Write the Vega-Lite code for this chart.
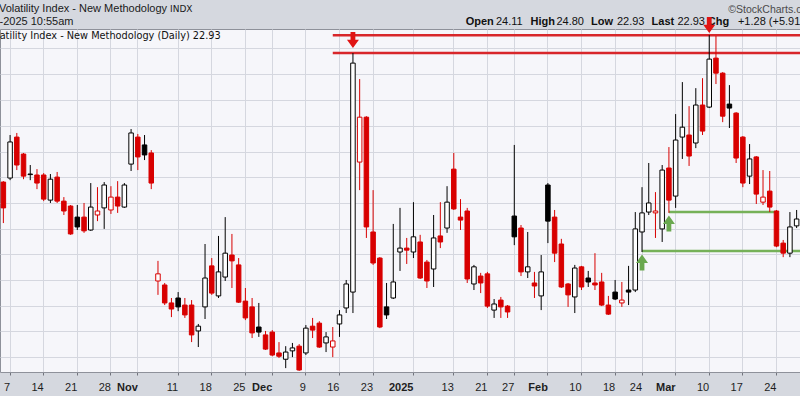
{
  "$schema": "https://vega.github.io/schema/vega-lite/v6.json",
  "autosize": "none",
  "width": 800,
  "height": 343,
  "padding": {"left": 0, "top": 29, "right": 0, "bottom": 24},
  "background": "#d5d8df",
  "config": {
    "view": {"fill": "#f6f6fa", "stroke": "#8e919a", "strokeWidth": 1},
    "text": {"font": "Liberation Sans"}
  },
  "datasets": {
    "vix": [
      {"d":"2024-10-04","o":20.53,"h":20.58,"l":18.52,"c":19.24},
      {"d":"2024-10-07","o":20.74,"h":23.11,"l":20.63,"c":22.71},
      {"d":"2024-10-08","o":22.99,"h":23.23,"l":21.16,"c":21.43},
      {"d":"2024-10-09","o":22.03,"h":22.09,"l":20.68,"c":20.84},
      {"d":"2024-10-10","o":20.92,"h":21.43,"l":20.63,"c":20.95},
      {"d":"2024-10-11","o":20.90,"h":21.21,"l":20.17,"c":20.48},
      {"d":"2024-10-14","o":20.90,"h":21.00,"l":19.57,"c":19.67},
      {"d":"2024-10-15","o":19.62,"h":20.95,"l":19.48,"c":20.68},
      {"d":"2024-10-16","o":20.79,"h":21.06,"l":19.48,"c":19.57},
      {"d":"2024-10-17","o":19.57,"h":19.77,"l":18.90,"c":19.09},
      {"d":"2024-10-18","o":19.33,"h":19.38,"l":17.98,"c":18.02},
      {"d":"2024-10-21","o":18.80,"h":19.38,"l":18.20,"c":18.34},
      {"d":"2024-10-22","o":18.80,"h":19.48,"l":18.07,"c":18.16},
      {"d":"2024-10-23","o":18.20,"h":20.48,"l":18.16,"c":19.28},
      {"d":"2024-10-24","o":18.90,"h":20.27,"l":18.61,"c":19.09},
      {"d":"2024-10-25","o":19.24,"h":20.53,"l":18.25,"c":20.38},
      {"d":"2024-10-28","o":19.14,"h":20.32,"l":18.95,"c":19.77},
      {"d":"2024-10-29","o":19.77,"h":20.58,"l":19.00,"c":19.33},
      {"d":"2024-10-30","o":19.28,"h":20.48,"l":19.24,"c":20.38},
      {"d":"2024-10-31","o":21.48,"h":23.46,"l":21.11,"c":23.23},
      {"d":"2024-11-01","o":22.99,"h":23.17,"l":21.16,"c":21.87},
      {"d":"2024-11-04","o":22.54,"h":23.11,"l":21.70,"c":21.98},
      {"d":"2024-11-05","o":22.09,"h":22.25,"l":20.17,"c":20.48},
      {"d":"2024-11-06","o":16.01,"h":16.84,"l":15.46,"c":16.30},
      {"d":"2024-11-07","o":15.85,"h":15.93,"l":15.07,"c":15.15},
      {"d":"2024-11-08","o":15.15,"h":15.34,"l":14.62,"c":14.92},
      {"d":"2024-11-11","o":15.34,"h":15.57,"l":14.84,"c":15.00},
      {"d":"2024-11-12","o":15.07,"h":15.34,"l":14.59,"c":14.70},
      {"d":"2024-11-13","o":15.07,"h":15.26,"l":13.73,"c":13.98},
      {"d":"2024-11-14","o":14.12,"h":14.37,"l":13.56,"c":14.29},
      {"d":"2024-11-15","o":15.00,"h":17.57,"l":14.55,"c":16.13},
      {"d":"2024-11-18","o":16.63,"h":16.96,"l":15.46,"c":15.53},
      {"d":"2024-11-19","o":15.42,"h":17.93,"l":15.34,"c":16.38},
      {"d":"2024-11-20","o":16.17,"h":18.80,"l":16.01,"c":17.17},
      {"d":"2024-11-21","o":17.09,"h":18.02,"l":15.73,"c":16.84},
      {"d":"2024-11-22","o":16.67,"h":16.96,"l":15.15,"c":15.18},
      {"d":"2024-11-25","o":15.22,"h":15.73,"l":14.51,"c":14.59},
      {"d":"2024-11-26","o":15.00,"h":15.34,"l":13.87,"c":14.05},
      {"d":"2024-11-27","o":14.26,"h":15.15,"l":13.91,"c":14.08},
      {"d":"2024-11-29","o":13.98,"h":14.12,"l":13.46,"c":13.49},
      {"d":"2024-12-02","o":14.08,"h":14.15,"l":13.25,"c":13.29},
      {"d":"2024-12-03","o":13.36,"h":13.73,"l":13.19,"c":13.25},
      {"d":"2024-12-04","o":13.15,"h":13.59,"l":12.86,"c":13.39},
      {"d":"2024-12-05","o":13.43,"h":13.70,"l":13.22,"c":13.53},
      {"d":"2024-12-06","o":13.59,"h":13.66,"l":12.77,"c":12.80},
      {"d":"2024-12-09","o":13.36,"h":14.33,"l":13.29,"c":14.22},
      {"d":"2024-12-10","o":14.29,"h":14.59,"l":13.87,"c":14.15},
      {"d":"2024-12-11","o":14.40,"h":14.47,"l":13.53,"c":13.56},
      {"d":"2024-12-12","o":13.70,"h":14.08,"l":13.39,"c":13.91},
      {"d":"2024-12-13","o":13.56,"h":14.26,"l":13.22,"c":13.77},
      {"d":"2024-12-16","o":14.37,"h":14.88,"l":13.91,"c":14.70},
      {"d":"2024-12-17","o":14.96,"h":16.05,"l":14.77,"c":15.89},
      {"d":"2024-12-18","o":15.57,"h":28.40,"l":14.77,"c":27.69},
      {"d":"2024-12-19","o":21.59,"h":26.60,"l":20.12,"c":24.17},
      {"d":"2024-12-20","o":24.17,"h":24.23,"l":17.84,"c":18.34},
      {"d":"2024-12-23","o":18.11,"h":20.12,"l":16.67,"c":16.75},
      {"d":"2024-12-24","o":16.96,"h":17.00,"l":14.22,"c":14.26},
      {"d":"2024-12-26","o":15.00,"h":15.93,"l":14.55,"c":14.70},
      {"d":"2024-12-27","o":15.34,"h":18.48,"l":15.30,"c":15.97},
      {"d":"2024-12-30","o":17.22,"h":19.24,"l":16.42,"c":17.39},
      {"d":"2024-12-31","o":17.39,"h":17.84,"l":16.71,"c":17.30},
      {"d":"2025-01-02","o":17.22,"h":19.52,"l":16.96,"c":17.89},
      {"d":"2025-01-03","o":17.66,"h":17.98,"l":16.09,"c":16.13},
      {"d":"2025-01-06","o":16.79,"h":16.88,"l":15.73,"c":16.01},
      {"d":"2025-01-07","o":16.50,"h":18.90,"l":15.77,"c":17.84},
      {"d":"2025-01-08","o":17.93,"h":19.52,"l":17.39,"c":17.66},
      {"d":"2025-01-10","o":18.29,"h":20.32,"l":18.07,"c":19.52},
      {"d":"2025-01-13","o":21.21,"h":22.09,"l":19.14,"c":19.19},
      {"d":"2025-01-14","o":18.80,"h":19.67,"l":18.20,"c":18.66},
      {"d":"2025-01-15","o":19.09,"h":19.24,"l":15.93,"c":16.09},
      {"d":"2025-01-16","o":15.89,"h":16.67,"l":15.65,"c":16.59},
      {"d":"2025-01-17","o":16.21,"h":16.34,"l":15.53,"c":15.93},
      {"d":"2025-01-21","o":16.30,"h":16.38,"l":14.96,"c":15.03},
      {"d":"2025-01-22","o":14.88,"h":15.30,"l":14.59,"c":15.11},
      {"d":"2025-01-23","o":15.26,"h":15.38,"l":14.59,"c":15.00},
      {"d":"2025-01-24","o":15.03,"h":15.07,"l":14.59,"c":14.81},
      {"d":"2025-01-27","o":18.85,"h":22.54,"l":17.52,"c":17.89},
      {"d":"2025-01-28","o":18.29,"h":18.43,"l":16.21,"c":16.38},
      {"d":"2025-01-29","o":16.38,"h":18.11,"l":16.13,"c":16.59},
      {"d":"2025-01-30","o":15.93,"h":16.38,"l":15.34,"c":15.81},
      {"d":"2025-01-31","o":15.42,"h":17.09,"l":14.88,"c":16.38},
      {"d":"2025-02-03","o":20.38,"h":20.48,"l":17.61,"c":18.61},
      {"d":"2025-02-04","o":18.80,"h":19.14,"l":16.79,"c":17.17},
      {"d":"2025-02-05","o":17.57,"h":17.80,"l":15.73,"c":15.77},
      {"d":"2025-02-06","o":15.89,"h":15.93,"l":15.00,"c":15.46},
      {"d":"2025-02-07","o":15.38,"h":16.67,"l":14.77,"c":16.54},
      {"d":"2025-02-10","o":16.59,"h":16.63,"l":15.65,"c":15.77},
      {"d":"2025-02-11","o":16.13,"h":16.42,"l":15.77,"c":15.97},
      {"d":"2025-02-12","o":15.93,"h":17.17,"l":15.65,"c":15.85},
      {"d":"2025-02-13","o":15.97,"h":16.34,"l":15.03,"c":15.07},
      {"d":"2025-02-14","o":15.07,"h":15.42,"l":14.70,"c":14.73},
      {"d":"2025-02-18","o":15.57,"h":16.05,"l":15.26,"c":15.30},
      {"d":"2025-02-19","o":15.15,"h":15.97,"l":15.00,"c":15.26},
      {"d":"2025-02-20","o":15.65,"h":16.63,"l":15.07,"c":15.57},
      {"d":"2025-02-21","o":15.65,"h":19.04,"l":15.57,"c":18.25},
      {"d":"2025-02-24","o":18.11,"h":20.27,"l":17.22,"c":19.00},
      {"d":"2025-02-25","o":19.04,"h":21.54,"l":18.90,"c":19.48},
      {"d":"2025-02-26","o":19.00,"h":20.02,"l":17.84,"c":19.09},
      {"d":"2025-02-27","o":18.25,"h":21.43,"l":17.66,"c":21.16},
      {"d":"2025-02-28","o":21.27,"h":22.42,"l":19.00,"c":19.62},
      {"d":"2025-03-03","o":19.82,"h":24.36,"l":19.24,"c":22.82},
      {"d":"2025-03-04","o":22.99,"h":26.40,"l":21.76,"c":23.57},
      {"d":"2025-03-05","o":23.11,"h":24.85,"l":21.38,"c":21.92},
      {"d":"2025-03-06","o":22.65,"h":26.00,"l":22.36,"c":24.92},
      {"d":"2025-03-07","o":24.92,"h":26.66,"l":23.11,"c":23.34},
      {"d":"2025-03-10","o":24.79,"h":29.71,"l":24.73,"c":27.97},
      {"d":"2025-03-11","o":28.04,"h":29.64,"l":26.27,"c":27.00},
      {"d":"2025-03-12","o":27.00,"h":27.07,"l":23.87,"c":24.23},
      {"d":"2025-03-13","o":24.98,"h":26.20,"l":23.52,"c":24.73},
      {"d":"2025-03-14","o":24.42,"h":24.48,"l":21.54,"c":21.81},
      {"d":"2025-03-17","o":22.99,"h":23.05,"l":20.27,"c":20.48},
      {"d":"2025-03-18","o":20.84,"h":22.59,"l":20.43,"c":21.76},
      {"d":"2025-03-19","o":21.87,"h":21.92,"l":19.43,"c":19.92},
      {"d":"2025-03-20","o":19.52,"h":21.16,"l":19.38,"c":19.77},
      {"d":"2025-03-21","o":20.07,"h":21.11,"l":19.04,"c":19.28},
      {"d":"2025-03-24","o":19.09,"h":19.14,"l":17.43,"c":17.48},
      {"d":"2025-03-25","o":17.61,"h":17.75,"l":17.00,"c":17.17},
      {"d":"2025-03-26","o":17.17,"h":19.04,"l":17.00,"c":18.34},
      {"d":"2025-03-27","o":18.39,"h":19.14,"l":18.29,"c":18.71}
    ],
    "header": [
      {"t": "Volatility Index - New Methodology", "k": "title", "at": "2024-10-04", "v": 31.72},
      {"t": "31-Mar-2025 10:55am", "k": "date", "at": "2024-10-04", "v": 30.70},
      {"t": "INDX", "k": "indx", "at": "2024-11-08", "v": 31.72},
      {"t": "©StockCharts.com", "k": "credit", "at": "2025-03-13", "v": 31.64},
      {"t": "Volatility Index - New Methodology (Daily) 22.93", "k": "daily", "at": "2024-10-04", "v": 29.67},
      {"t": "Open", "k": "labA", "at": "2025-01-15", "v": 30.70},
      {"t": "High", "k": "labB", "at": "2025-01-29", "v": 30.70},
      {"t": "Low", "k": "labB", "at": "2025-02-11", "v": 30.70},
      {"t": "Last", "k": "labB", "at": "2025-02-25", "v": 30.70},
      {"t": "Chg", "k": "labA", "at": "2025-03-10", "v": 30.70},
      {"t": "24.11", "k": "num", "at": "2025-01-22", "v": 30.70},
      {"t": "24.80", "k": "num", "at": "2025-02-04", "v": 30.70},
      {"t": "22.93", "k": "num", "at": "2025-02-18", "v": 30.70},
      {"t": "22.93", "k": "num", "at": "2025-03-03", "v": 30.70},
      {"t": "+1.28 (+5.91%)", "k": "num", "at": "2025-03-14", "v": 30.70}
    ]
  },
  "layer": [
    {
      "data": {"values": [
        {"from": "2024-12-13", "to": "2025-03-27", "v": 29.7},
        {"from": "2024-12-13", "to": "2025-03-27", "v": 28.4}
      ]},
      "mark": {"type": "rule", "color": "#d8262a", "strokeWidth": 2.5, "x2Offset": 6},
      "encoding": {
        "x": {"field": "from", "type": "ordinal", "scale": {"type": "band", "paddingInner": 0, "paddingOuter": 0}},
        "x2": {"field": "to"},
        "y": {"field": "v", "type": "quantitative", "scale": {"type": "log", "domain": [12.735, 30.17], "nice": false}}
      }
    },
    {
      "data": {"values": [{"from": "2025-02-24", "to": "2025-03-27", "v": 17.26}]},
      "mark": {"type": "rule", "color": "#76b158", "strokeWidth": 2.5, "x2Offset": 6},
      "encoding": {
        "x": {"field": "from", "type": "ordinal"},
        "x2": {"field": "to"},
        "y": {"field": "v", "type": "quantitative"}
      }
    },
    {
      "data": {"values": [{"from": "2025-02-28", "to": "2025-03-24", "v": 19.04}]},
      "mark": {"type": "rule", "color": "#76b158", "strokeWidth": 2.5},
      "encoding": {
        "x": {"field": "from", "type": "ordinal"},
        "x2": {"field": "to"},
        "y": {"field": "v", "type": "quantitative"}
      }
    },
    {
      "data": {"name": "vix"},
      "transform": [
        {"window": [{"op": "lag", "field": "c", "as": "pc"}], "sort": [{"field": "d", "order": "ascending"}]},
        {"calculate": "datum.pc != null && datum.c >= datum.pc ? 'up' : 'down'", "as": "trend"},
        {"calculate": "datum.c > datum.o ? 'hollow' : datum.trend", "as": "body"}
      ],
      "layer": [
        {
          "mark": {"type": "rule", "strokeWidth": 1},
          "encoding": {
            "x": {"field": "d", "type": "ordinal"},
            "y": {"field": "l", "type": "quantitative"},
            "y2": {"field": "h"},
            "stroke": {"field": "trend", "type": "nominal", "scale": {"domain": ["down", "up"], "range": ["#d80000", "#000000"]}, "legend": null}
          }
        },
        {
          "mark": {"type": "bar", "width": 4.5, "strokeWidth": 1},
          "encoding": {
            "x": {
              "field": "d", "type": "ordinal",
              "axis": {
                "values": ["2024-10-07","2024-10-14","2024-10-21","2024-10-28","2024-11-01","2024-11-11","2024-11-18","2024-11-25","2024-12-02","2024-12-09","2024-12-16","2024-12-23","2025-01-02","2025-01-13","2025-01-21","2025-01-27","2025-02-03","2025-02-10","2025-02-18","2025-02-24","2025-03-03","2025-03-10","2025-03-17","2025-03-24"],
                "labelExpr": "datum.value == '2024-11-01' ? 'Nov' : datum.value == '2024-12-02' ? 'Dec' : datum.value == '2025-01-02' ? '2025' : datum.value == '2025-02-03' ? 'Feb' : datum.value == '2025-03-03' ? 'Mar' : '' + parseInt(slice(datum.value, 8))",
                "labelFontWeight": {"condition": {"test": "datum.value == '2024-11-01' || datum.value == '2024-12-02' || datum.value == '2025-01-02' || datum.value == '2025-02-03' || datum.value == '2025-03-03'", "value": "bold"}, "value": "normal"},
                "grid": true,
                "gridColor": "#d5d7df",
                "bandPosition": 0.5,
                "domain": false,
                "ticks": true,
                "tickSize": 3,
                "tickColor": "#70737c",
                "labelFont": "Liberation Sans",
                "labelFontSize": 11,
                "labelColor": "#1e1e1e",
                "labelBaseline": "middle",
                "labelPadding": 12,
                "labelAngle": 0,
                "labelOverlap": false,
                "labelFlush": false,
                "title": null
              }
            },
            "y": {
              "field": "o", "type": "quantitative",
              "axis": {"values": [28.75, 26.93, 25.23, 23.63, 22.14, 20.79, 19.48, 18.24, 17.13, 16.05, 15.03, 14.12, 13.23], "grid": true, "gridColor": "#d5d7df", "labels": false, "ticks": false, "domain": false, "title": null}
            },
            "y2": {"field": "c"},
            "fill": {"field": "body", "type": "nominal", "scale": {"domain": ["down", "up", "hollow"], "range": ["#d80000", "#000000", "#ffffff"]}, "legend": null},
            "stroke": {"field": "trend", "type": "nominal", "legend": null}
          }
        }
      ]
    },
    {
      "data": {"name": "header"},
      "transform": [{"filter": "datum.k == 'title'"}],
      "mark": {"type": "text", "align": "left", "baseline": "middle", "fontSize": 11, "color": "#1a1a1a", "dx": -4.4},
      "encoding": {"x": {"field": "at", "type": "ordinal"}, "y": {"field": "v", "type": "quantitative"}, "text": {"field": "t"}}
    },
    {
      "data": {"name": "header"},
      "transform": [{"filter": "datum.k == 'date'"}],
      "mark": {"type": "text", "align": "left", "baseline": "middle", "fontSize": 11, "color": "#1a1a1a", "dx": -38.7},
      "encoding": {"x": {"field": "at", "type": "ordinal"}, "y": {"field": "v", "type": "quantitative"}, "text": {"field": "t"}}
    },
    {
      "data": {"name": "header"},
      "transform": [{"filter": "datum.k == 'indx'"}],
      "mark": {"type": "text", "align": "left", "baseline": "middle", "font": "DejaVu Sans", "fontSize": 9, "color": "#1a1a1a", "dx": -1.4},
      "encoding": {"x": {"field": "at", "type": "ordinal"}, "y": {"field": "v", "type": "quantitative"}, "text": {"field": "t"}}
    },
    {
      "data": {"name": "header"},
      "transform": [{"filter": "datum.k == 'credit'"}],
      "mark": {"type": "text", "align": "left", "baseline": "middle", "fontSize": 10.5, "color": "#4a4a4a", "dx": -1.1},
      "encoding": {"x": {"field": "at", "type": "ordinal"}, "y": {"field": "v", "type": "quantitative"}, "text": {"field": "t"}}
    },
    {
      "data": {"name": "header"},
      "transform": [{"filter": "datum.k == 'daily'"}],
      "mark": {"type": "text", "align": "left", "baseline": "middle", "font": "DejaVu Sans", "fontSize": 9.75, "color": "#111111", "dx": -18.3},
      "encoding": {"x": {"field": "at", "type": "ordinal"}, "y": {"field": "v", "type": "quantitative"}, "text": {"field": "t"}}
    },
    {
      "data": {"name": "header"},
      "transform": [{"filter": "datum.k == 'labA'"}],
      "mark": {"type": "text", "align": "left", "baseline": "middle", "fontSize": 11, "fontWeight": "bold", "color": "#111111", "dx": -1.5},
      "encoding": {"x": {"field": "at", "type": "ordinal"}, "y": {"field": "v", "type": "quantitative"}, "text": {"field": "t"}}
    },
    {
      "data": {"name": "header"},
      "transform": [{"filter": "datum.k == 'labB'"}],
      "mark": {"type": "text", "align": "left", "baseline": "middle", "fontSize": 11, "fontWeight": "bold", "color": "#111111", "dx": 2.8},
      "encoding": {"x": {"field": "at", "type": "ordinal"}, "y": {"field": "v", "type": "quantitative"}, "text": {"field": "t"}}
    },
    {
      "data": {"name": "header"},
      "transform": [{"filter": "datum.k == 'num'"}],
      "mark": {"type": "text", "align": "left", "baseline": "middle", "fontSize": 11, "color": "#111111", "dx": 1.8},
      "encoding": {"x": {"field": "at", "type": "ordinal"}, "y": {"field": "v", "type": "quantitative"}, "text": {"field": "t"}}
    },
    {
      "data": {"values": [{"d": "2024-12-18", "v": 29.34}, {"d": "2025-03-10", "v": 30.47}]},
      "mark": {"type": "point", "shape": "M-0.3,-1L0.3,-1L0.3,-0.05L0.75,-0.05L0,1L-0.75,-0.05L-0.3,-0.05Z", "size": 256, "filled": true, "opacity": 1, "color": "#e01414"},
      "encoding": {"x": {"field": "d", "type": "ordinal"}, "y": {"field": "v", "type": "quantitative"}}
    },
    {
      "data": {"values": [{"d": "2025-02-28", "v": 18.5}, {"d": "2025-02-24", "v": 16.77}]},
      "mark": {"type": "point", "shape": "M-0.3,1L0.3,1L0.3,0.05L0.75,0.05L0,-1L-0.75,0.05L-0.3,0.05Z", "size": 256, "filled": true, "opacity": 1, "color": "#6aa84f"},
      "encoding": {"x": {"field": "d", "type": "ordinal"}, "y": {"field": "v", "type": "quantitative"}}
    }
  ]
}
